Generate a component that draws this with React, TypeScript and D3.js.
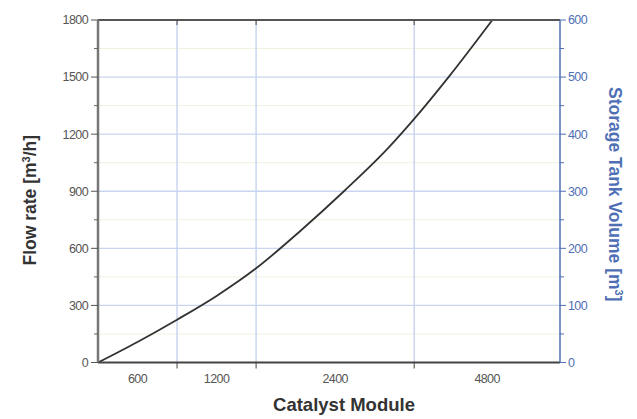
import React from "react";
import * as d3 from "d3";

const xBoundaries = [0, 900, 1800, 3600, 5260];
const xLabels = ["600", "1200", "2400", "4800"];
const flowTicks = [0, 300, 600, 900, 1200, 1500, 1800];
const flowMinor = [150, 450, 750, 1050, 1350, 1650];
const volumeTicks = [0, 100, 200, 300, 400, 500, 600];
const curveX = [0, 450, 900, 1350, 1800, 2300, 2800, 3300, 3600, 4000, 4490];
const curveFlow = [0, 108, 225, 350, 495, 690, 900, 1125, 1280, 1505, 1800];

const W = 637, H = 419;
const L = 98, R = 560, T = 20, B = 362.5;

export default function App() {
  const x = d3.scaleLinear().domain([xBoundaries[0], xBoundaries[xBoundaries.length - 1]]).range([L, R]);
  const y = d3.scaleLinear().domain([0, 1800]).range([B, T]);
  const y2 = d3.scaleLinear().domain([0, 600]).range([B, T]);
  const line = d3.line<number>().x((_, i) => x(curveX[i])).y((d) => y(d)).curve(d3.curveMonotoneX);
  const font = "Liberation Sans, Arial, sans-serif";
  const blue = "#4f6fb5";
  return (
    <svg width={W} height={H} style={{ position: "absolute", left: 0, top: 0, background: "#fff" }} fontFamily={font}>
      <defs>
        <clipPath id="plot"><rect x={L} y={T} width={R - L} height={B - T} /></clipPath>
      </defs>
      {flowMinor.map((v) => (
        <line key={"mg" + v} x1={L} x2={R} y1={y(v)} y2={y(v)} stroke="#eef3df" strokeWidth={1} />
      ))}
      {flowTicks.slice(1, -1).map((v) => (
        <line key={"g" + v} x1={L} x2={R} y1={y(v)} y2={y(v)} stroke="#c9d5ef" strokeWidth={1.3} />
      ))}
      {xBoundaries.slice(1, -1).map((v) => (
        <line key={"vg" + v} x1={x(v)} x2={x(v)} y1={T} y2={B} stroke="#c9d5ef" strokeWidth={1.5} />
      ))}
      <path d={line(curveFlow) || ""} fill="none" stroke="#333" strokeWidth={1.8} clipPath="url(#plot)" />
      {/* frame */}
      <line x1={L} x2={R} y1={T} y2={T} stroke="#555" strokeWidth={2} />
      <line x1={L} x2={R} y1={B} y2={B} stroke="#444" strokeWidth={2} />
      <line x1={L} x2={L} y1={T} y2={B} stroke="#777" strokeWidth={2.5} />
      <line x1={R} x2={R} y1={T} y2={B} stroke={blue} strokeWidth={1.5} />
      {/* left ticks */}
      {flowTicks.map((v) => (
        <g key={"lt" + v}>
          <line x1={L - 7} x2={L} y1={y(v)} y2={y(v)} stroke="#555" strokeWidth={1} />
          <text x={L - 10} y={y(v)} dy="0.35em" textAnchor="end" fontSize={12.5} fill="#555" letterSpacing={-0.6}>{v}</text>
        </g>
      ))}
      {flowMinor.map((v) => (
        <line key={"lm" + v} x1={L - 4} x2={L} y1={y(v)} y2={y(v)} stroke="#666" strokeWidth={1} />
      ))}
      {/* right ticks */}
      {volumeTicks.map((v) => (
        <g key={"rt" + v}>
          <line x1={R} x2={R + 6} y1={y2(v)} y2={y2(v)} stroke={blue} strokeWidth={1} />
          <text x={R + 8} y={y2(v)} dy="0.35em" textAnchor="start" fontSize={12.5} fill={blue} letterSpacing={-0.6}>{v}</text>
        </g>
      ))}
      {flowMinor.map((v) => (
        <line key={"rm" + v} x1={R} x2={R + 4} y1={y(v)} y2={y(v)} stroke={blue} strokeWidth={1} />
      ))}
      {/* x ticks */}
      {xBoundaries.slice(1, -1).map((v) => (
        <g key={"xt" + v}>
          <line x1={x(v)} x2={x(v)} y1={B} y2={B + 6} stroke="#444" strokeWidth={1} />
          <line x1={x(v)} x2={x(v)} y1={T} y2={T + 5} stroke="#444" strokeWidth={1} />
        </g>
      ))}
      {xLabels.map((lab, i) => (
        <text key={"xl" + lab} x={(x(xBoundaries[i]) + x(xBoundaries[i + 1])) / 2} y={B + 20} textAnchor="middle" fontSize={12.5} fill="#555" letterSpacing={-0.6}>{lab}</text>
      ))}
      {/* titles */}
      <text x={(L + R) / 2 + 15} y={411} textAnchor="middle" fontSize={18.5} fontWeight="bold" fill="#333">Catalyst Module</text>
      <text transform={`translate(36, ${(T + B) / 2 + 9}) rotate(-90)`} textAnchor="middle" fontSize={17.5} fontWeight="bold" fill="#333">
        Flow rate [m<tspan dy={-6} fontSize={11}>3</tspan><tspan dy={6}>/h]</tspan>
      </text>
      <text transform={`translate(609, ${(T + B) / 2 + 3}) rotate(90)`} textAnchor="middle" fontSize={17.5} fontWeight="bold" fill={blue}>
        Storage Tank Volume [m<tspan dy={-6} fontSize={11}>3</tspan><tspan dy={6}>]</tspan>
      </text>
    </svg>
  );
}
